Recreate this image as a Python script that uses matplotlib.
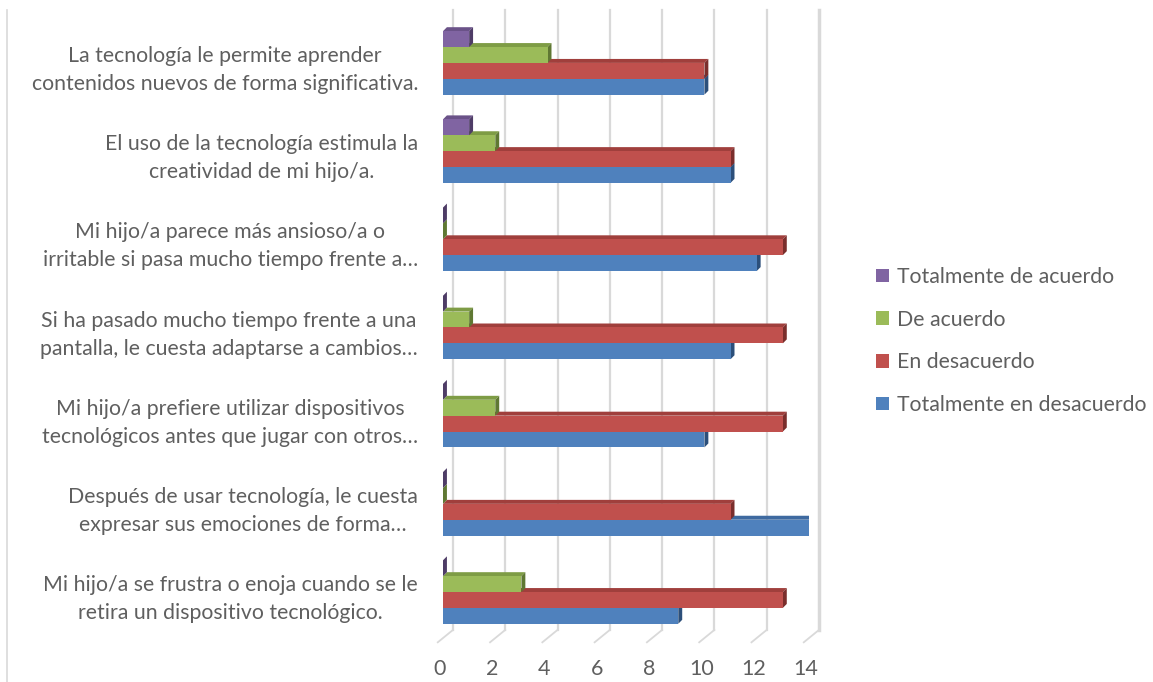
import numpy as np
import matplotlib
matplotlib.use("Agg")
import matplotlib.pyplot as plt
from matplotlib.patches import Polygon, Patch

plt.rcParams['font.family'] = ['Lato', 'DejaVu Sans']

categories = [
    "La tecnología le permite aprender\ncontenidos nuevos de forma significativa.",
    "El uso de la tecnología estimula la\ncreatividad de mi hijo/a.",
    "Mi hijo/a parece más ansioso/a o\nirritable si pasa mucho tiempo frente a…",
    "Si ha pasado mucho tiempo frente a una\npantalla, le cuesta adaptarse a cambios…",
    "Mi hijo/a prefiere utilizar dispositivos\ntecnológicos antes que jugar con otros…",
    "Después de usar tecnología, le cuesta\nexpresar sus emociones de forma…",
    "Mi hijo/a se frustra o enoja cuando se le\nretira un dispositivo tecnológico.",
]
tot_acuerdo = [1, 1, 0, 0, 0, 0, 0]
de_acuerdo = [4, 2, 0, 1, 2, 0, 3]
en_desacuerdo = [10, 11, 13, 13, 13, 11, 13]
tot_desacuerdo = [10, 11, 12, 11, 10, 14, 9]

series_names = ["Totalmente de acuerdo", "De acuerdo", "En desacuerdo",
                "Totalmente en desacuerdo"]
series_values = [tot_acuerdo, de_acuerdo, en_desacuerdo, tot_desacuerdo]
front_cols = ["#8064A2", "#9BBB59", "#C0504D", "#4F81BD"]
top_cols = ["#6A5288", "#7E9C45", "#A03F3C", "#3E6AA0"]
side_cols = ["#4E3C66", "#5F7833", "#7A2E2C", "#2C4F7A"]

text_col = "#5F5F5F"
grid_col = "#D9D9D9"

W, H = 1153, 682
fig = plt.figure(figsize=(W / 100, H / 100), dpi=100)
ax = fig.add_axes([443 / W, 1 - 643 / H, 366 / W, 633 / H])
ax.set_xlim(0, 14)
ax.set_ylim(6.578, -0.6)
ax.axis('off')

# depth of the pseudo-3D bars (data units)
dx, dy = 0.15, -0.045
bar_h = 0.18
offsets = [-0.27, -0.09, 0.09, 0.27]

# back wall gridlines, floor diagonals and value labels
back_dx = 0.38
for k in range(0, 15, 2):
    lw = 2.5 if k == 14 else 1.6
    ax.plot([k + back_dx, k + back_dx], [-0.6, 6.43], color=grid_col, lw=lw,
            clip_on=False, zorder=0)
    ax.plot([k + back_dx, k - 0.2], [6.43, 6.57], color=grid_col, lw=1.3,
            clip_on=False, zorder=0)
    ax.text(k - 0.12, 6.76, str(k), ha='center', va='top', fontsize=15.5,
            color=text_col)

y = np.arange(len(categories))
z = 1
# draw from the lowest bar in each group upwards so upper fronts cover top faces
for s in range(3, -1, -1):
    vals = series_values[s]
    for i, v in enumerate(vals):
        yc = i + offsets[s]
        yt, yb = yc - bar_h / 2, yc + bar_h / 2
        top = Polygon([(0, yt), (dx, yt + dy), (v + dx, yt + dy), (v, yt)],
                      closed=True, facecolor=top_cols[s], edgecolor='none',
                      zorder=z)
        side = Polygon([(v, yt), (v + dx, yt + dy), (v + dx, yb + dy), (v, yb)],
                       closed=True, facecolor=side_cols[s], edgecolor='none',
                       zorder=z)
        ax.add_patch(top)
        ax.add_patch(side)
    ax.barh(y + offsets[s], vals, height=bar_h, color=front_cols[s],
            edgecolor='none', zorder=z + 1)
    z += 2

for i, lab in enumerate(categories):
    ax.text(-25 / 26.14, i + 0.08, lab, ha='right', va='center',
            multialignment='center', fontsize=15.3, color=text_col,
            linespacing=1.5)

handles = [Patch(facecolor=c, edgecolor='none') for c in front_cols]
fig.legend(handles, series_names, loc='center left',
           bbox_to_anchor=(857 / W, 1 - 341 / H), frameon=False,
           fontsize=15.3, labelcolor=text_col, handlelength=0.6,
           handleheight=0.6, handletextpad=0.4, labelspacing=1.07)

# thin chart-area border on the left
fig.add_artist(plt.Line2D([7 / W, 7 / W], [0, 1 - 10 / H], color=grid_col,
                          lw=1.2))

fig.savefig("out.png", dpi=100, facecolor='white')
